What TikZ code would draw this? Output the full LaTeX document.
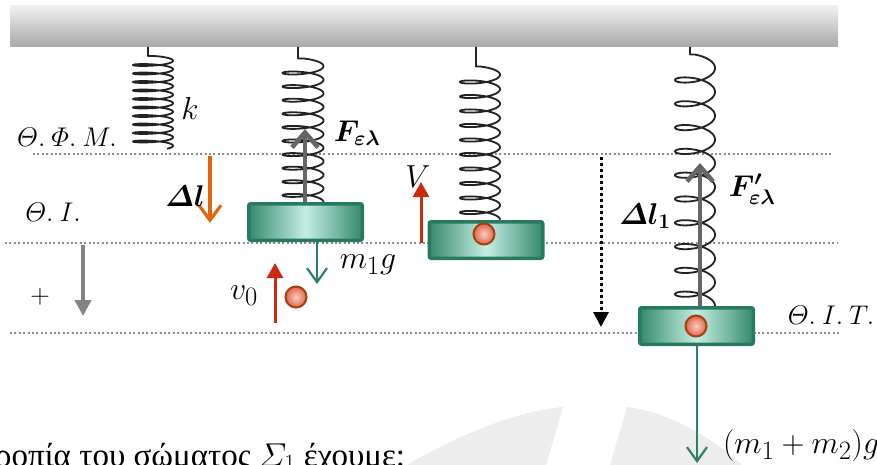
\RequirePackage{fix-cm}
\documentclass[tikz,border=0pt]{standalone}
\usepackage{amsmath,amssymb}
\usepackage{bm}
\usepackage{graphicx}
\usepackage{fontspec}
\newfontfamily\grfont{Liberation Serif}
\usetikzlibrary{arrows.meta}
\definecolor{ceilL}{HTML}{F0F0F0}
\definecolor{ceilM}{HTML}{E2E2E2}
\definecolor{ceilD}{HTML}{A8A8A8}
\definecolor{dotc}{HTML}{8C8C8C}
\definecolor{tealD}{HTML}{277A5F}
\definecolor{tealM}{HTML}{358A6E}
\definecolor{mint}{HTML}{C4EEE2}
\definecolor{ballIn}{HTML}{F9CDBD}
\definecolor{ballOut}{HTML}{E0664C}
\definecolor{ballRim}{HTML}{A5400F}
\definecolor{orangeA}{HTML}{E0670F}
\definecolor{redA}{HTML}{CC2A10}
\definecolor{grayA}{HTML}{666666}
\definecolor{grayP}{HTML}{838383}
\definecolor{greenA}{HTML}{2E8066}
\definecolor{wm}{HTML}{EDEDED}
\definecolor{springc}{HTML}{222222}
\newcommand\myspring[8]{%
  \draw[spr] (#1,47) -- (#1,#2) -- plot[variable=\t, domain=-90:#8, samples=700]
    ({#3+#4*cos(\t)},{#5+(\t/360)*#6+#7*sin(\t)});}
\newcommand\mlab[1]{\scalebox{1.28}{$#1$}}
\begin{document}
\begin{tikzpicture}[x=1pt,y=-1pt,
  lvl/.style={draw=dotc, line width=1.6pt, dash pattern=on 2pt off 2.4pt},
  spr/.style={draw=springc, line width=1.8pt, line join=round},
  ceil/.style={top color=ceilL, middle color=ceilM, bottom color=ceilD, minimum width=828pt, minimum height=41pt, inner sep=0pt},
  block/.style={draw=tealD, line width=3.5pt, rounded corners=2pt, left color=tealM, right color=tealM, middle color=mint, minimum width=113.5pt, minimum height=36.5pt, inner sep=0pt},
  ball/.style={circle, draw=ballRim, line width=2pt, inner color=ballIn, outer color=ballOut, inner sep=0pt, minimum size=21pt},
  farrow/.style={draw=grayA, line width=4.5pt, -{Straight Barb[length=15pt,width=26pt]}},
  oarrow/.style={draw=orangeA, line width=3.2pt, -{Straight Barb[length=15pt,width=22pt]}},
  garrow/.style={draw=greenA, line width=2.2pt, -{Straight Barb[length=14pt,width=20pt]}},
  rarrow/.style={draw=redA, fill=redA, line width=3pt, -{Triangle[length=15pt,width=16pt]}},
  parrow/.style={draw=grayP, fill=grayP, line width=4pt, -{Triangle[length=16pt,width=16pt]}},
  darrow/.style={draw=black, fill=black, line width=3pt, dash pattern=on 3pt off 3pt, -{Triangle[length=15pt,width=15pt]}},
  lab/.style={font=\fontsize{24.88}{30}\selectfont, inner sep=0pt},
  boldlab/.style={font=\fontsize{30}{34}\selectfont, inner sep=0pt},
  poslab/.style={font=\fontsize{27}{30}\selectfont, inner sep=0pt}]
\useasboundingbox (0,0) rectangle (877,465);
\fill[white] (0,0) rectangle (877,465);
% watermark
\fill[wm] (407,465) .. controls (450,440) and (510,412) .. (563,407) -- (546,465) -- cycle;
\fill[wm] (627,407) .. controls (670,412) and (715,440) .. (742,465) -- (610,465) -- cycle;
% ceiling
\node[ceil] (ceiling) at (424,26.5) {};
% level lines
\coordinate (l1a) at (33,154); \coordinate (l1b) at (832,154);
\coordinate (l2a) at (5,243);  \coordinate (l2b) at (838,243);
\coordinate (l3a) at (10,333); \coordinate (l3b) at (840,333);
\draw[lvl] (l1a) -- (l1b);
\draw[lvl] (l2a) -- (l2b);
\draw[lvl] (l3a) -- (l3b);
% springs
\myspring{148}{55.9}{153}{20}{60.75}{8.5}{2.72}{3645}
\myspring{298}{58.45}{303}{20.5}{66.2}{13.6}{4.35}{3600}
\myspring{476}{66.5}{480}{20}{74.75}{14.5}{4.64}{3600}
\myspring{690}{54.5}{695}{20}{68.1}{23.8}{7.6}{3600}
% blocks and balls
\node[block] (b1) at (305.5,222) {};
\node[block] (b2) at (486,240) {};
\node[block] (b3) at (696.5,326) {};
\node[ball] (s1) at (296,297) {};
\node[ball] (s2) at (484,234) {};
\node[ball] (s3) at (696,326) {};
% arrows
\coordinate (f1) at (305,129);
\draw[farrow] (b1.north -| f1) -- (f1);
\coordinate (f2) at (700,163);
\draw[farrow] (b3.north -| f2) -- (f2);
\coordinate (dla) at (210,156); \coordinate (dlb) at (210,223);
\draw[oarrow] (dla) -- (dlb);
\coordinate (w1) at (317,284);
\draw[garrow] (b1.south -| w1) -- (w1);
\coordinate (w2) at (697,463);
\draw[garrow] (b3.south -| w2) -- (w2);
\coordinate (v0a) at (275,323); \coordinate (v0b) at (275,263);
\draw[rarrow] (v0a) -- (v0b);
\coordinate (va) at (421,243); \coordinate (vb) at (421,182);
\draw[rarrow] (va) -- (vb);
\coordinate (pa) at (83,245); \coordinate (pb) at (83,316);
\draw[parrow] (pa) -- (pb);
\coordinate (da) at (601,157); \coordinate (db) at (601,327);
\draw[darrow] (da) -- (db);
% labels
\node[poslab] (tfm) at (67,137) {$\varTheta.\:\varPhi.\:M.$};
\node[poslab] (ti) at (53,212) {$\varTheta.\:I.$};
\node[poslab] (tit) at (831,315) {$\varTheta.\:I.\:T.$};
\node[poslab] (plus) at (40,297) {$+$};
\node[lab] (k) at (190,108) {\mlab{k}};
\node[boldlab] (fel) at (357,133) {$\bm{F_{\varepsilon\lambda}}$};
\node[boldlab] (fel2) at (752,189) {$\bm{F'_{\varepsilon\lambda}}$};
\node[boldlab] (dl) at (185,196) {$\bm{\varDelta l}$};
\node[boldlab] (dl1) at (645,216) {$\bm{\varDelta l_1}$};
\node[lab] (m1g) at (368,265) {\mlab{m_1g}};
\node[lab] (v0) at (244,296) {\mlab{v_0}};
\node[lab] (V) at (418,177) {\mlab{V}};
\node[lab, anchor=base west] (wlab) at (723,453) {\mlab{(m_1+m_2)g}};
\node[anchor=base west, inner sep=0pt, font=\grfont\fontsize{33}{36}\selectfont] (txt) at (-5,466) {ροπία του σώματος $\varSigma_1$ έχουμε:};
\end{tikzpicture}
\end{document}
